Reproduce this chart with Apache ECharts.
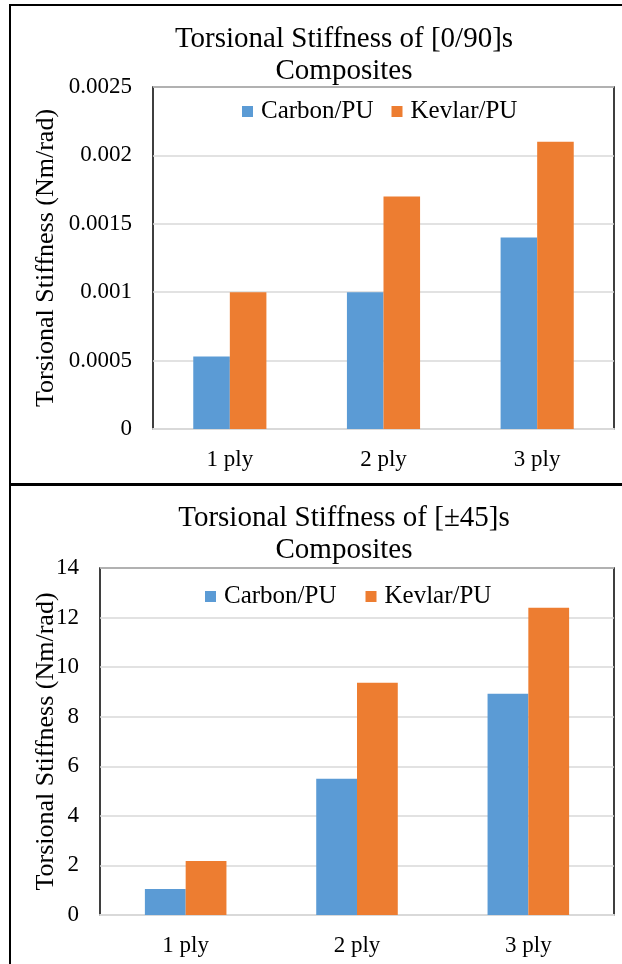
<!DOCTYPE html>
<html>
<head>
<meta charset="utf-8">
<script src="https://cdn.jsdelivr.net/npm/echarts@6/dist/echarts.min.js"></script>
<style>
  html, body { margin: 0; padding: 0; background: #fff; }
  #chart { width: 622px; height: 964px; }
</style>
</head>
<body>
<div id="chart"></div>
<script>
// Torsional stiffness of Carbon/PU and Kevlar/PU laminates, by ply count
const categories = ['1 ply', '2 ply', '3 ply'];
const seriesNames = ['Carbon/PU', 'Kevlar/PU'];

// [0/90]s layup (Nm/rad)
const carbon090 = [0.00053, 0.0010, 0.0014];
const kevlar090 = [0.0010, 0.0017, 0.0021];

// [±45]s layup (Nm/rad)
const carbon45 = [1.05, 5.50, 8.93];
const kevlar45 = [2.18, 9.37, 12.40];

const titleTop = 'Torsional Stiffness of [0/90]s\nComposites';
const titleBottom = 'Torsional Stiffness of [±45]s\nComposites';
const yName = 'Torsional Stiffness (Nm/rad)';

const FONT = '"Liberation Serif", "Times New Roman", serif';
const BLUE = '#5b9bd5';
const ORANGE = '#ed7d31';
const GRID_LINE = '#d9d9d9';

function fmt(v) { return String(parseFloat(Number(v).toPrecision(6))); }

function xAxisFor(gridIndex) {
  return {
    type: 'category', gridIndex, data: categories,
    axisLine: { lineStyle: { color: GRID_LINE, width: 2 } },
    axisTick: { show: false },
    axisLabel: { color: '#000', fontFamily: FONT, fontSize: 23, margin: 19 }
  };
}
function yAxisFor(gridIndex, max, interval, nameGap) {
  return {
    type: 'value', gridIndex, min: 0, max, interval,
    name: yName, nameLocation: 'middle', nameGap, nameRotate: 90,
    nameMoveOverlap: false,
    nameTextStyle: { color: '#000', fontFamily: FONT, fontSize: 26 },
    axisLine: { show: false }, axisTick: { show: false },
    axisLabel: { color: '#000', fontFamily: FONT, fontSize: 23, margin: 21, formatter: fmt },
    splitLine: { lineStyle: { color: GRID_LINE, width: 1.5 } }
  };
}
function barSeries(name, data, idx, color) {
  return {
    type: 'bar', name, data, xAxisIndex: idx, yAxisIndex: idx,
    barWidth: '23.8%', barGap: '0%',
    itemStyle: { color }
  };
}
function legendFor(left, top, gap) {
  return {
    left, top, padding: 0, itemGap: gap, itemWidth: 11, itemHeight: 11,
    icon: 'rect', data: seriesNames,
    textStyle: { color: '#000', fontFamily: FONT, fontSize: 25, padding: [0, 0, 0, 3] }
  };
}

const chart = echarts.init(document.getElementById('chart'), null, { renderer: 'canvas' });
chart.setOption({
  backgroundColor: '#fff',
  animation: false,
  title: [
    { text: titleTop, left: 339, top: 18, textAlign: 'center',
      textStyle: { color: '#000', fontFamily: FONT, fontSize: 29, fontWeight: 'normal', lineHeight: 32 } },
    { text: titleBottom, left: 339, top: 497, textAlign: 'center',
      textStyle: { color: '#000', fontFamily: FONT, fontSize: 29, fontWeight: 'normal', lineHeight: 32 } }
  ],
  legend: [ legendFor(242, 99, 18), legendFor(205, 584, 29) ],
  grid: [
    { left: 153, top: 87, right: 8, bottom: 535, show: true, borderColor: '#000', borderWidth: 1.5, containLabel: false },
    { left: 100, top: 568, right: 8, bottom: 49, show: true, borderColor: '#000', borderWidth: 1.5, containLabel: false }
  ],
  xAxis: [ xAxisFor(0), xAxisFor(1) ],
  yAxis: [ yAxisFor(0, 0.0025, 0.0005, 94), yAxisFor(1, 14, 2, 41) ],
  series: [
    barSeries(seriesNames[0], carbon090, 0, BLUE),
    barSeries(seriesNames[1], kevlar090, 0, ORANGE),
    barSeries(seriesNames[0], carbon45, 1, BLUE),
    barSeries(seriesNames[1], kevlar45, 1, ORANGE)
  ],
  graphic: [
    // panel frames
    { type: 'line', shape: { x1: 10, y1: 5, x2: 622, y2: 5 }, style: { stroke: '#000', lineWidth: 2 } },
    { type: 'line', shape: { x1: 10, y1: 4, x2: 10, y2: 964 }, style: { stroke: '#000', lineWidth: 2 } },
    { type: 'line', shape: { x1: 9, y1: 484.5, x2: 622, y2: 484.5 }, style: { stroke: '#000', lineWidth: 3 } }
  ]
});
</script>
</body>
</html>
